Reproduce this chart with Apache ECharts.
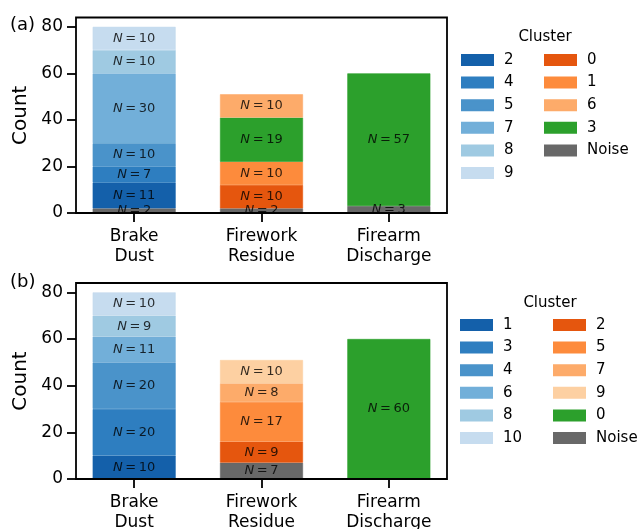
<!DOCTYPE html>
<html>
<head>
<meta charset="utf-8">
<script src="https://cdn.jsdelivr.net/npm/echarts@6/dist/echarts.min.js"></script>
<style>
  html, body { margin: 0; padding: 0; background: #fff; }
  #main { width: 639px; height: 529px; }
</style>
</head>
<body>
<div id="main"></div>
<script>
// categories on the x axis (same for both panels)
const categories = ['Brake\nDust', 'Firework\nResidue', 'Firearm\nDischarge'];
const yTicks = [0, 20, 40, 60, 80];

// panel (a): clusters in stacking order, counts per category
const clustersA = ['Noise', '0', '1', '2', '3', '4', '5', '6', '7', '8', '9'];
const countsA = [
  [2, 2, 3],
  [null, 10, null],
  [null, 10, null],
  [11, null, null],
  [null, 19, 57],
  [7, null, null],
  [10, null, null],
  [null, 10, null],
  [30, null, null],
  [10, null, null],
  [10, null, null]
];
const legendA = [['2', '4', '5', '7', '8', '9'], ['0', '1', '6', '3', 'Noise']];

// panel (b)
const clustersB = ['Noise', '0', '1', '2', '3', '4', '5', '6', '7', '8', '9', '10'];
const countsB = [
  [null, 7, null],
  [null, null, 60],
  [10, null, null],
  [null, 9, null],
  [20, null, null],
  [20, null, null],
  [null, 17, null],
  [11, null, null],
  [null, 8, null],
  [9, null, null],
  [null, 10, null],
  [10, null, null]
];
const legendB = [['1', '3', '4', '6', '8', '10'], ['2', '5', '7', '9', '0', 'Noise']];

// colours
const blues = ['#1460aa', '#2e7ec0', '#4a93ca', '#72afd9', '#9fcae2', '#c6dcef'];
const oranges = ['#e5560e', '#fd8b3c', '#fdab6a', '#fdd0a2'];
const green = '#2ca02c';
const grey = '#686868';
const colorsA = { 'Noise': grey, '3': green, '0': oranges[0], '1': oranges[1], '6': oranges[2],
  '2': blues[0], '4': blues[1], '5': blues[2], '7': blues[3], '8': blues[4], '9': blues[5] };
const colorsB = { 'Noise': grey, '0': green, '2': oranges[0], '5': oranges[1], '7': oranges[2], '9': oranges[3],
  '1': blues[0], '3': blues[1], '4': blues[2], '6': blues[3], '8': blues[4], '10': blues[5] };

const FONT = 'DejaVu Sans';
const chart = echarts.init(document.getElementById('main'), null, { renderer: 'canvas' });

// bars live in a slightly wider grid (matplotlib x margins), the frame + y axis in the inner one
const panels = [
  { top: 17.5, height: 195.5 },
  { top: 283, height: 196 }
];
const barGrid = { left: 70.5, right: 186.5 };
const frameGrid = { left: 76, right: 192 };

const grids = [];
const xAxes = [];
const yAxes = [];
panels.forEach((p, i) => {
  // bar grid: index 2*i
  grids.push(Object.assign({ show: false, outerBoundsMode: 'none' }, barGrid, p));
  // frame grid: index 2*i+1
  grids.push(Object.assign({ show: true, outerBoundsMode: 'none', z: 10, borderColor: '#000', borderWidth: 1.8, backgroundColor: 'transparent' }, frameGrid, p));

  xAxes.push({
    gridIndex: 2 * i, type: 'category', data: categories,
    axisLine: { show: false },
    axisTick: { show: true, alignWithLabel: true, length: 9, lineStyle: { color: '#000', width: 1.8 } },
    axisLabel: { margin: 14, color: '#000', fontFamily: FONT, fontSize: 17, lineHeight: 20 }
  });
  xAxes.push({ gridIndex: 2 * i + 1, type: 'value', show: false, min: 0, max: 1 });

  yAxes.push({ gridIndex: 2 * i, type: 'value', show: false, min: 0, max: 84 });
  yAxes.push({
    gridIndex: 2 * i + 1, type: 'value', min: 0, max: 84,
    name: 'Count', nameLocation: 'middle', nameGap: 32,
    nameTextStyle: { fontFamily: FONT, fontSize: 20, color: '#000' },
    splitLine: { show: false },
    axisLine: { show: false },
    axisTick: { show: true, customValues: yTicks, length: 9, lineStyle: { color: '#000', width: 1.8 } },
    axisLabel: { customValues: yTicks, margin: 13, color: '#000', fontFamily: FONT, fontSize: 17 }
  });
});

function makeSeries(prefix, axisIdx, clusters, counts, colors) {
  return clusters.map((c, k) => ({
    name: prefix + ':' + c,
    type: 'bar',
    xAxisIndex: axisIdx, yAxisIndex: axisIdx,
    stack: 'total' + prefix,
    barWidth: 83,
    // thin border of the same colour hides antialias seams between stacked segments
    itemStyle: { color: colors[c], borderColor: colors[c], borderWidth: 0.6 },
    label: {
      show: true, position: 'inside',
      formatter: (p) => '{i|N}\u2009=\u2009' + p.value,
      fontFamily: FONT, fontSize: 13, color: 'rgba(0,0,0,0.8)',
      rich: { i: { fontStyle: 'italic', fontFamily: FONT, fontSize: 13, color: 'rgba(0,0,0,0.8)' } }
    },
    emphasis: { disabled: true },
    data: counts[k].map((v) => (v == null ? '-' : v))
  }));
}

function makeLegend(prefix, names, left, top) {
  return {
    orient: 'vertical', left: left, top: top, padding: 0,
    icon: 'rect', itemWidth: 31, itemHeight: 10, itemGap: 6.6,
    selectedMode: false,
    formatter: (n) => n.split(':')[1],
    textStyle: { fontFamily: FONT, fontSize: 15, color: '#000', lineHeight: 16, padding: [0, 0, 0, 6] },
    data: names.map((n) => prefix + ':' + n)
  };
}

chart.setOption({
  animation: false,
  grid: grids,
  xAxis: xAxes,
  yAxis: yAxes,
  legend: [
    makeLegend('a', legendA[0], 461, 52),
    makeLegend('a', legendA[1], 544, 52),
    makeLegend('b', legendB[0], 460, 317),
    makeLegend('b', legendB[1], 553, 317)
  ],
  graphic: [
    { type: 'text', x: 10, y: 25, style: { text: '(a)', font: '18px "DejaVu Sans"', fill: '#000', textVerticalAlign: 'middle' } },
    { type: 'text', x: 10, y: 282, style: { text: '(b)', font: '18px "DejaVu Sans"', fill: '#000', textVerticalAlign: 'middle' } },
    { type: 'text', x: 545, y: 37, style: { text: 'Cluster', font: '15px "DejaVu Sans"', fill: '#000', textAlign: 'center', textVerticalAlign: 'middle' } },
    { type: 'text', x: 550, y: 303, style: { text: 'Cluster', font: '15px "DejaVu Sans"', fill: '#000', textAlign: 'center', textVerticalAlign: 'middle' } }
  ],
  series: [].concat(
    makeSeries('a', 0, clustersA, countsA, colorsA),
    makeSeries('b', 2, clustersB, countsB, colorsB)
  )
});
</script>
</body>
</html>
